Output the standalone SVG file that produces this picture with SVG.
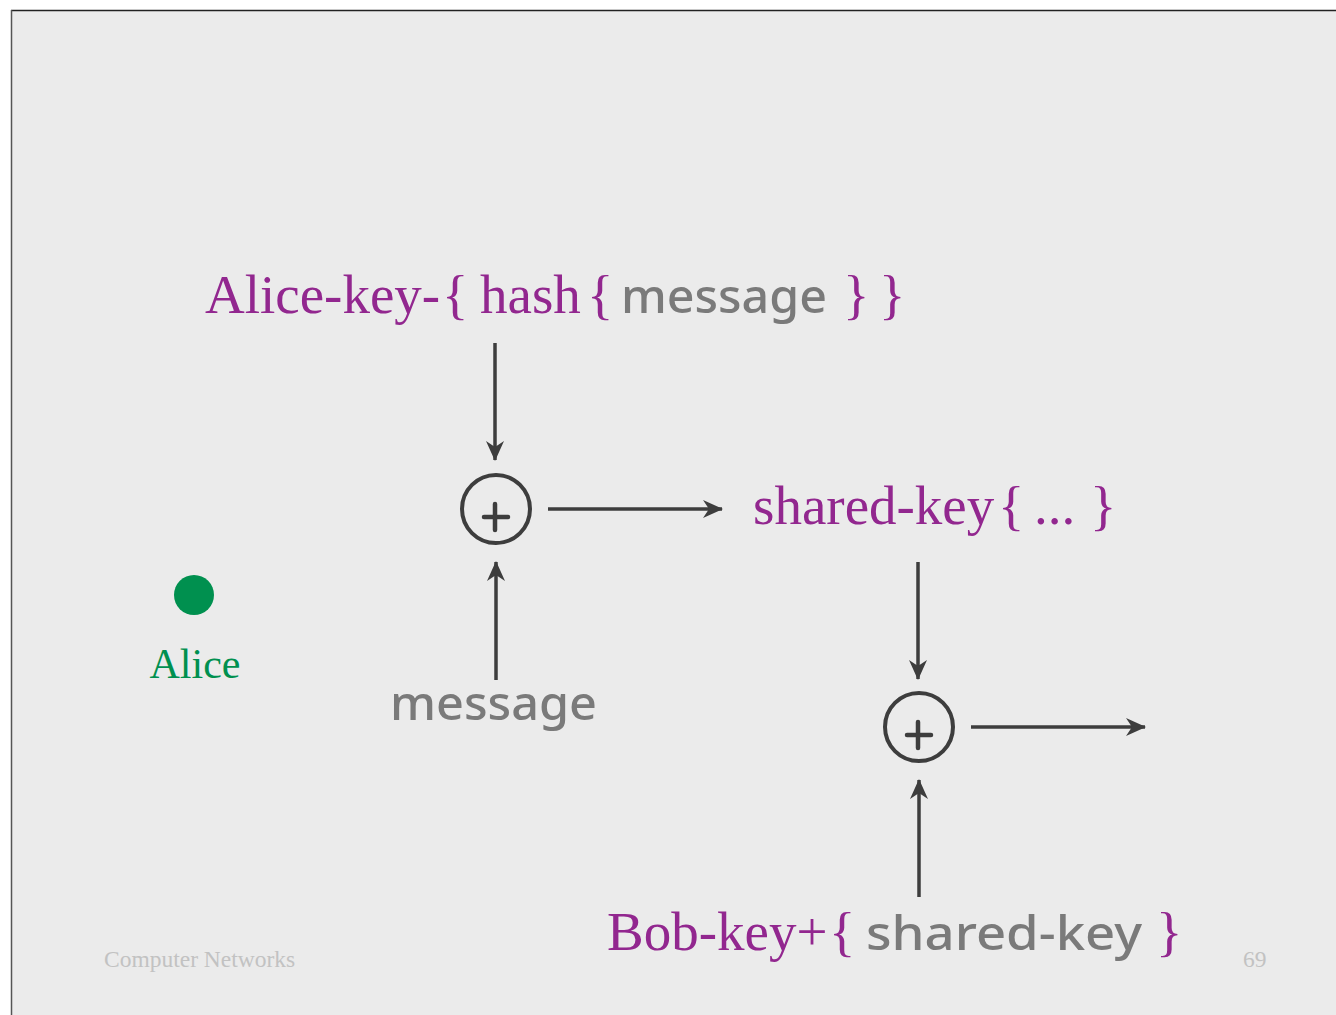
<svg xmlns="http://www.w3.org/2000/svg" width="1336" height="1015" viewBox="0 0 1336 1015">
<defs>
<style>
.p{font-family:"Liberation Serif","Times New Roman",serif;fill:#92278F;font-size:55px}
.g{font-family:"Noto Sans","DejaVu Sans",sans-serif;fill:#7a7a7a;font-size:48px;font-weight:500}
.foot{font-family:"Liberation Serif",serif;fill:#c2c2c2;font-size:23.5px}
.ln{stroke:#3d3d3d;stroke-width:3.5;fill:none}
.ring{stroke:#3d3d3d;stroke-width:4;fill:none}
.plus{stroke:#3d3d3d;stroke-width:4.5;stroke-linecap:round}
</style>
<marker id="ah" viewBox="0 0 20 18" refX="19" refY="9" markerWidth="20" markerHeight="18" markerUnits="userSpaceOnUse" orient="auto">
<path d="M0,0 L20,9 L0,18 L6,9 Z" fill="#3d3d3d"/>
</marker>
</defs>
<rect x="0" y="0" width="1336" height="1015" fill="#ffffff"/>
<rect x="11" y="10" width="1325" height="1005" fill="#ebebeb"/>
<line x1="11" y1="10.5" x2="1336" y2="10.5" stroke="#222" stroke-width="1.5"/>
<line x1="11.5" y1="10" x2="11.5" y2="1015" stroke="#555" stroke-width="1.5"/>

<g id="top-label">
<text class="p" x="205" y="313">Alice-key-</text>
<text class="p" x="442" y="313">{</text>
<text class="p" x="480" y="313">hash</text>
<text class="p" x="587" y="313">{</text>
<text class="g" x="621" y="313" textLength="206" lengthAdjust="spacingAndGlyphs">message</text>
<text class="p" x="843" y="313">}</text>
<text class="p" x="879" y="313">}</text>
</g>

<g id="xor1">
<circle class="ring" cx="496" cy="509" r="34"/>
<line class="plus" x1="484" y1="517" x2="508" y2="517"/>
<line class="plus" x1="495" y1="504" x2="495" y2="530"/>
</g>

<g id="shared-label">
<text class="p" x="753" y="524">shared-key</text>
<text class="p" x="998" y="524">{</text>
<text class="p" x="1034" y="524">...</text>
<text class="p" x="1090" y="524">}</text>
</g>

<g id="message-label">
<text class="g" x="390" y="720" textLength="207" lengthAdjust="spacingAndGlyphs">message</text>
</g>

<g id="alice">
<circle cx="194" cy="595" r="20" fill="#00904f"/>
<text x="195" y="678" text-anchor="middle" font-family="Liberation Serif,serif" font-size="42" fill="#00904f">Alice</text>
</g>

<g id="xor2">
<circle class="ring" cx="919" cy="727" r="34"/>
<line class="plus" x1="907" y1="735" x2="931" y2="735"/>
<line class="plus" x1="918" y1="722" x2="918" y2="748"/>
</g>

<g id="bottom-label">
<text class="p" x="607" y="950">Bob-key+</text>
<text class="p" x="829" y="950">{</text>
<text class="g" x="866" y="950" textLength="276" lengthAdjust="spacingAndGlyphs">shared-key</text>
<text class="p" x="1156" y="950">}</text>
</g>

<g id="connectors">
<line class="ln" x1="495" y1="343" x2="495" y2="460" marker-end="url(#ah)"/>
<line class="ln" x1="548" y1="509" x2="722" y2="509" marker-end="url(#ah)"/>
<line class="ln" x1="496" y1="680" x2="496" y2="562" marker-end="url(#ah)"/>
<line class="ln" x1="918" y1="562" x2="918" y2="679" marker-end="url(#ah)"/>
<line class="ln" x1="971" y1="727" x2="1145" y2="727" marker-end="url(#ah)"/>
<line class="ln" x1="919" y1="897" x2="919" y2="780" marker-end="url(#ah)"/>
</g>

<g id="footer">
<text class="foot" x="104" y="967">Computer Networks</text>
<text class="foot" x="1243" y="967">69</text>
</g>
</svg>
